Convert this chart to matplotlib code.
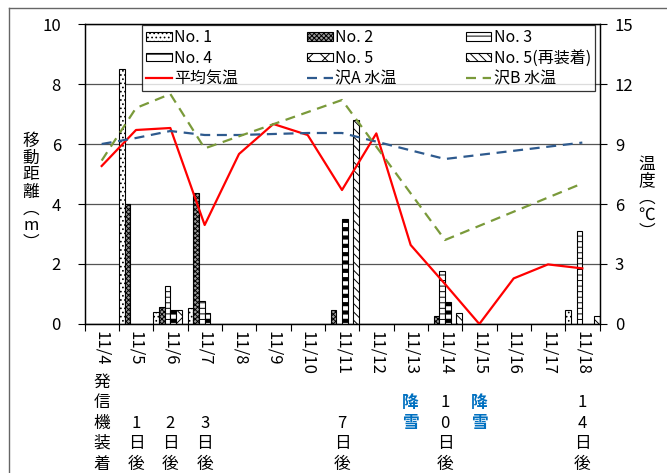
import numpy as np
import matplotlib
matplotlib.use("Agg")
import matplotlib.pyplot as plt
from matplotlib.patches import Patch
from matplotlib.lines import Line2D

plt.rcParams['font.family'] = ['Noto Sans CJK JP', 'DejaVu Sans']
plt.rcParams['hatch.linewidth'] = 0.7

# ---------------- data ----------------
dates = ["11/4", "11/5", "11/6", "11/7", "11/8", "11/9", "11/10", "11/11",
         "11/12", "11/13", "11/14", "11/15", "11/16", "11/17", "11/18"]
sub_labels = ["発信機装着", "1日後", "2日後", "3日後", "", "", "", "7日後",
              "", "降雪", "10日後", "降雪", "", "", "14日後"]
snow_label = "降雪"

series_names = ["No. 1", "No. 2", "No. 3", "No. 4", "No. 5", "No. 5(再装着)"]
no1 = [0, 8.5, 0.4, 0.55, 0, 0, 0, 0, 0, 0, 0, 0, 0, 0, 0.47]
no2 = [0, 4.0, 0.57, 4.37, 0, 0, 0, 0.47, 0, 0, 0.27, 0, 0, 0, 0]
no3 = [0, 0, 1.27, 0.77, 0, 0, 0, 0, 0, 0, 1.76, 0, 0, 0, 3.1]
no4 = [0, 0, 0.47, 0.38, 0, 0, 0, 3.49, 0, 0, 0.75, 0, 0, 0, 0]
no5 = [0, 0, 0.47, 0, 0, 0, 0, 0, 0, 0, 0, 0, 0, 0, 0]
no5r = [0, 0, 0, 0, 0, 0, 0, 6.8, 0, 0, 0.37, 0, 0, 0, 0.27]

air_temp = [7.9, 9.7, 9.8, 4.95, 8.5, 10.0, 9.45, 6.7, 9.53, 3.95, 2.0, 0.0, 2.28, 2.98, 2.78]
sawaA = [9.0, 9.3, 9.65, 9.45, 9.45, 9.5, 9.55, 9.55, None, None, 8.25, None, None, None, 9.07]
sawaB = [8.17, 10.8, 11.5, 8.78, None, None, None, 11.2, None, None, 4.2, None, None, None, 7.03]

left_ticks = [0, 2, 4, 6, 8, 10]
right_ticks = [0, 3, 6, 9, 12, 15]

# ---------------- figure ----------------
W, H = 667, 473
fig = plt.figure(figsize=(W / 100, H / 100), dpi=100)
ax = fig.add_axes([84.5 / W, (H - 324) / H, 515 / W, 300 / H])
ax2 = ax.twinx()

n = len(dates)
x = np.arange(n)
bar_series = [no1, no2, no3, no4, no5, no5r]
hatches = ['....', 'xxxxxxx', '---', '--', 'xx', '\\\\\\\\']
faces = ['white', '#9a9a9a', 'white', 'white', 'white', 'white']
ns = len(bar_series)
bw = 1.0 / ns
bar_handles = []
for j, (vals, hatch, fc) in enumerate(zip(bar_series, hatches, faces)):
    xs = x - 0.5 + (j + 0.5) * bw
    bars = ax.bar(xs, vals, width=bw, facecolor=fc, edgecolor='black',
                  hatch=hatch, linewidth=0.8, zorder=2)
    if j == 3:
        for b in bars:
            if hasattr(b, 'set_hatch_linewidth'):
                b.set_hatch_linewidth(3.0)
    h = Patch(facecolor=fc, edgecolor='black', hatch=hatch, linewidth=0.8)
    if j == 3 and hasattr(h, 'set_hatch_linewidth'):
        h.set_hatch_linewidth(3.0)
    bar_handles.append(h)

ax.set_xlim(-0.5, n - 0.5)
ax.set_ylim(0, 10)
ax.set_yticks(left_ticks)
ax.yaxis.grid(True, color='#555555', linewidth=0.9)
ax.set_axisbelow(True)
ax.tick_params(axis='y', direction='out', length=5, width=0.8, pad=12, labelsize=12)

# x ticks: boundaries (major, no labels) and centres (minor, labels)
ax.set_xticks(np.arange(n + 1) - 0.5)
ax.set_xticklabels([])
ax.set_xticks(x, minor=True)
ax.set_xticklabels(dates, minor=True, rotation=-90, fontsize=12, va='top', ha='center')
ax.tick_params(axis='x', which='major', direction='out', length=5, width=0.8)
ax.tick_params(axis='x', which='minor', length=0, pad=5)

for s in ax.spines.values():
    s.set_color('black')
    s.set_linewidth(0.9)

# lines on secondary axis
def valid(vals):
    xi = [i for i, v in enumerate(vals) if v is not None]
    yi = [v for v in vals if v is not None]
    return xi, yi

l1, = ax2.plot(x, air_temp, color='#FF0000', lw=1.6, zorder=3)
xa, ya = valid(sawaA)
l2, = ax2.plot(xa, ya, color='#2E5A8E', lw=1.6, dashes=(4.5, 3), zorder=3)
xb, yb = valid(sawaB)
l3, = ax2.plot(xb, yb, color='#7A9A3A', lw=1.6, dashes=(4.5, 3), zorder=3)
ax2.set_ylim(0, 15)
ax2.set_yticks(right_ticks)
ax2.tick_params(axis='y', direction='out', length=5, width=0.8, pad=6, labelsize=12)
for s in ax2.spines.values():
    s.set_color('black')
    s.set_linewidth(0.9)

# legend (3 columns, row-wise order)
labels_all = series_names + ["平均気温", "沢A 水温", "沢B 水温"]
handles_all = bar_handles + [l1, l2, l3]
order = [0, 3, 6, 1, 4, 7, 2, 5, 8]
leg = ax2.legend([handles_all[k] for k in order], [labels_all[k] for k in order],
                 ncol=3, loc='upper left', mode='expand',
                 bbox_to_anchor=(0.1117, 0.7833, 0.8796, 0.2133),
                 fontsize=11.5, frameon=True, fancybox=False, borderaxespad=0,
                 handlelength=1.6, handleheight=0.45, handletextpad=0.15,
                 labelspacing=0.22, borderpad=0.25, columnspacing=1.0)
leg.get_frame().set_edgecolor('black')
leg.get_frame().set_linewidth(0.9)
leg.set_zorder(10)

# axis titles (vertical stacked text)
fig.text(31 / W, 1 - 192 / H, "\n".join("移動距離︵m︶"), ha='center', va='center',
         fontsize=12, linespacing=1.0)
fig.text(647 / W, 1 - 198 / H, "\n".join("温度︵℃︶"), ha='center', va='center',
         fontsize=12, linespacing=1.0)

# stacked sub-labels under dates
row_y = [382, 402.5, 423, 443.5, 464]
for i, lab in enumerate(sub_labels):
    if not lab:
        continue
    if lab == snow_label:
        start = 1
        color, weight = '#0070C0', 'bold'
    else:
        start = len(row_y) - len(lab)
        color, weight = 'black', 'normal'
    xf = ax.transData.transform((i, 0))[0] / W
    for k, ch in enumerate(lab):
        fig.text(xf, 1 - row_y[start + k] / H, ch, ha='center', va='center',
                 fontsize=12, color=color, fontweight=weight)

# outer frame lines
fig.add_artist(Line2D([8.5 / W, 8.5 / W], [0, 1 - 8.5 / H], color='#666666', lw=1,
                      transform=fig.transFigure))
fig.add_artist(Line2D([8.5 / W, 1], [1 - 8.5 / H, 1 - 8.5 / H], color='#666666', lw=1,
                      transform=fig.transFigure))

fig.savefig("out.png", dpi=100)
